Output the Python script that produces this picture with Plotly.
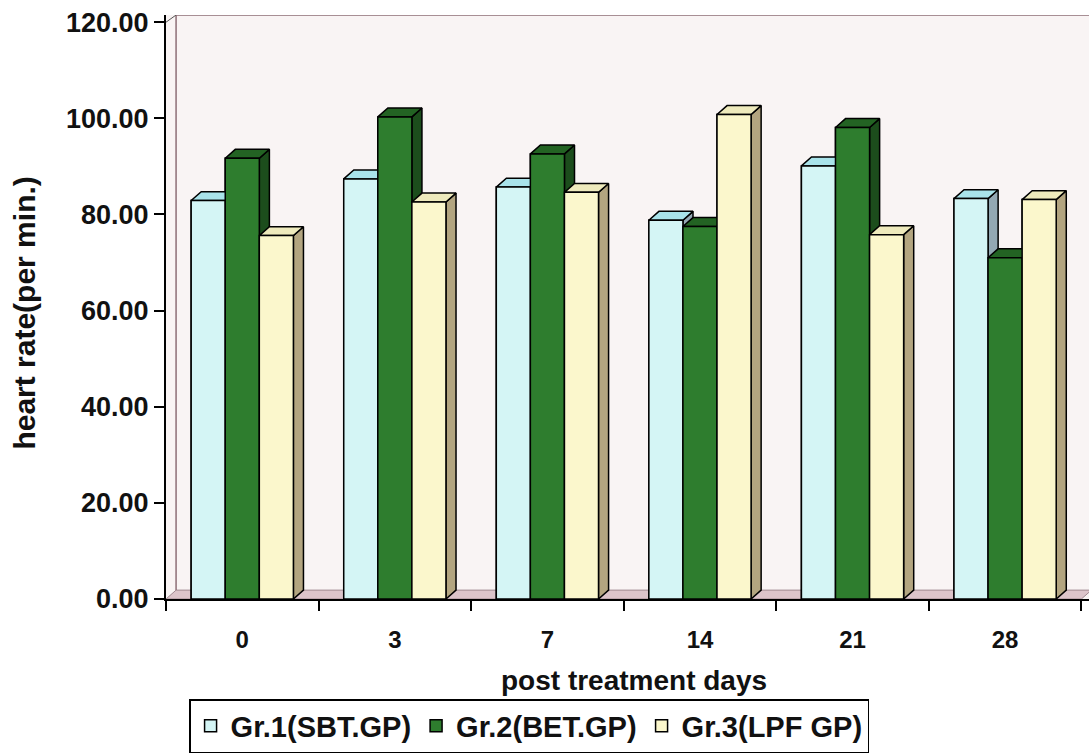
import plotly.graph_objects as go

# ---- data ----
days = ["0", "3", "7", "14", "21", "28"]
gr1 = [82.9, 87.4, 85.7, 78.8, 90.1, 83.3]
gr2 = [91.7, 100.3, 92.6, 77.5, 98.1, 71.0]
gr3 = [75.6, 82.6, 84.6, 100.8, 75.8, 83.1]
names = ["Gr.1(SBT.GP)", "Gr.2(BET.GP)", "Gr.3(LPF GP)"]
y_ticks = [0, 20, 40, 60, 80, 100, 120]

# ---- styling ----
front_col = ["#d4f5f5", "#2e7d2e", "#fbf7cc"]
top_col = ["#a9e3ea", "#236323", "#eeeabc"]
side_col = ["#93a8b3", "#1c4d1c", "#b3a580"]
FONT = "Liberation Sans"
BARGAP = 0.33
DX = 0.066   # depth offset (x units)
DY = 1.85    # depth offset (y units)

series = [gr1, gr2, gr3]
xs = list(range(len(days)))
gw = 1 - BARGAP
w = gw / 3

fig = go.Figure()

# real bar traces (front faces + legend)
for j, vals in enumerate(series):
    fig.add_trace(go.Bar(
        x=xs, y=vals, name=names[j],
        marker=dict(color=front_col[j], line=dict(color="black", width=1.5)),
    ))

# 3D faces drawn over the bars, derived from the same values
def poly(points_list):
    X, Y = [], []
    for pts in points_list:
        for (a, b) in pts:
            X.append(a); Y.append(b)
        X.append(pts[0][0]); Y.append(pts[0][1])
        X.append(None); Y.append(None)
    return X, Y

for j, vals in enumerate(series):
    sides, tops, fronts = [], [], []
    for i, v in zip(xs, vals):
        xl = i - gw / 2 + w * j
        xr = xl + w
        sides.append([(xr, 0), (xr + DX, DY), (xr + DX, v + DY), (xr, v)])
        tops.append([(xl, v), (xl + DX, v + DY), (xr + DX, v + DY), (xr, v)])
        fronts.append([(xl, 0), (xr, 0), (xr, v), (xl, v)])
    for pts, col in ((sides, side_col[j]), (tops, top_col[j]), (fronts, front_col[j])):
        X, Y = poly(pts)
        fig.add_trace(go.Scatter(
            x=X, y=Y, mode="lines", fill="toself", fillcolor=col,
            line=dict(color="black", width=1.5), showlegend=False,
            hoverinfo="skip",
        ))

x_min, x_max = -0.5, len(days) - 0.5
y_top = 121.5

# floor and back wall edges
fig.add_shape(type="path", xref="x", yref="y", layer="below",
              path=f"M {x_min},0 L {x_max},0 L {x_max + DX},{DY} L {x_min + DX},{DY} Z",
              fillcolor="#dcc4ca", line=dict(color="#a08990", width=1))
fig.add_shape(type="line", xref="x", yref="y", layer="below",
              x0=x_min + DX, y0=DY, x1=x_min + DX, y1=y_top,
              line=dict(color="#8d6e76", width=1.5))
fig.add_shape(type="line", xref="x", yref="y", layer="below",
              x0=x_min + DX, y0=y_top, x1=x_max + 0.1, y1=y_top,
              line=dict(color="#8d6e76", width=1.5))
fig.add_shape(type="line", xref="x", yref="y", layer="below",
              x0=x_min, y0=y_ticks[-1], x1=x_min + DX, y1=y_top,
              line=dict(color="#555", width=1))

fig.update_layout(
    width=1089, height=753,
    margin=dict(l=166, r=0, t=15, b=150),
    paper_bgcolor="white",
    plot_bgcolor="#f9f4f4",
    barmode="group", bargap=BARGAP, bargroupgap=0,
    font=dict(family=FONT, color="#111111", weight="bold"),
    xaxis=dict(
        range=[x_min, x_max + 0.05],
        tickvals=xs, ticktext=days, ticks="",
        tickfont=dict(size=24, family=FONT, weight="bold"),
        ticklabelstandoff=18,
        showline=True, linecolor="black", linewidth=2,
        showgrid=False, zeroline=False,
        minor=dict(tick0=-0.5, dtick=1, ticks="outside", ticklen=10,
                   tickwidth=1.5, tickcolor="black", showgrid=False),
    ),
    yaxis=dict(
        range=[0, y_top],
        tickvals=y_ticks, tickformat=".2f",
        ticks="outside", ticklen=10, tickwidth=1.5, tickcolor="black",
        tickfont=dict(size=27, family=FONT, weight="bold"),
        showline=True, linecolor="black", linewidth=2,
        showgrid=False, zeroline=False,
    ),
    legend=dict(
        orientation="h", x=0.025, y=-0.172, xanchor="left", yanchor="top",
        bordercolor="black", borderwidth=1.5, bgcolor="white",
        font=dict(size=29, family=FONT, weight="bold"),
        itemwidth=30, tracegroupgap=0,
    ),
    annotations=[
        dict(text="post treatment days", xref="paper", yref="paper",
             x=0.507, y=-0.1395, xanchor="center", yanchor="middle",
             showarrow=False, font=dict(size=28, family=FONT, weight="bold")),
        dict(text="heart rate(per min.)", xref="paper", yref="paper",
             x=-0.153, y=0.49, xanchor="center", yanchor="middle",
             textangle=-90, showarrow=False,
             font=dict(size=30, family=FONT, weight="bold")),
    ],
)

fig.write_html("out.html")
